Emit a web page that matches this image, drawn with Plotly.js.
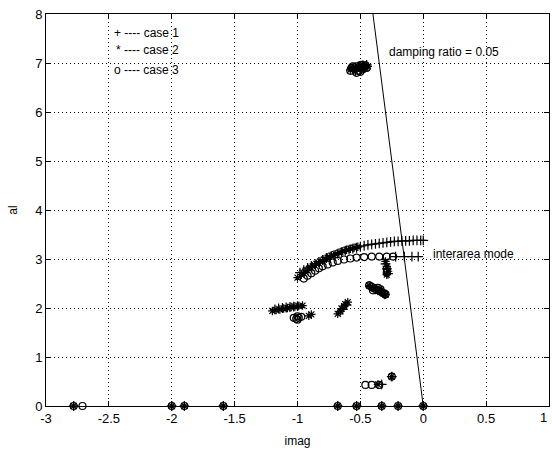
<!DOCTYPE html>
<html>
<head>
<meta charset="utf-8">
<script src="https://cdn.plot.ly/plotly-3.0.1.min.js"></script>
<style>html,body{margin:0;padding:0;background:#fff;}#chart{width:552px;height:457px;}</style>
</head>
<body>
<div id="chart"></div>
<script>
// case 1 (+)
var case1X = [-2.78,-2.0,-1.9,-1.59,-0.68,-0.53,-0.33,-0.2,0.0,
  -0.98,-0.95,-0.92,-0.89,-0.86,-0.83,-0.8,-0.77,-0.74,-0.71,-0.68,-0.65,-0.62,-0.59,-0.56,-0.53,-0.5,-0.47,-0.44,-0.41,-0.38,-0.35,-0.32,-0.29,-0.26,-0.23,-0.2,-0.17,-0.14,-0.11,-0.08,-0.05,-0.02,0.0,
  -0.22,-0.15,-0.09,-0.04,
  -0.56,-0.54,-0.51,-0.49,-0.47,-0.45,
  -1.18,-1.15,-1.12,-1.09,-1.06,-1.03,-1.0,
  -0.64,-0.61,
  -0.42,-0.38,-0.33,-0.31,
  -0.3,-0.29,-0.28,
  -0.33,-0.25];
var case1Y = [0,0,0,0,0,0,0,0,0,
  2.72,2.77,2.82,2.86,2.9,2.94,2.98,3.02,3.05,3.08,3.11,3.14,3.17,3.19,3.21,3.23,3.25,3.27,3.29,3.3,3.31,3.32,3.33,3.34,3.35,3.36,3.36,3.37,3.37,3.37,3.38,3.38,3.38,3.38,
  3.05,3.05,3.05,3.05,
  6.88,6.84,6.94,6.87,6.9,6.96,
  1.97,1.99,2.0,2.01,2.02,2.03,2.04,
  1.97,2.06,
  2.44,2.38,2.33,2.28,
  2.9,2.8,2.7,
  0.44,0.6];
// case 2 (*)
var case2X = [-2.78,-2.0,-1.9,-1.59,-0.68,-0.53,-0.33,-0.2,0.0,
  -1.0,-0.97,-0.94,-0.91,-0.88,-0.85,-0.82,-0.79,-0.76,-0.73,-0.7,-0.67,-0.64,-0.61,-0.58,-0.55,-0.52,
  -1.2,-1.17,-1.14,-1.11,-1.08,-1.05,-1.02,-0.99,-0.96,
  -0.68,-0.66,-0.65,-0.63,-0.62,-0.6,
  -0.91,-0.89,
  -0.58,-0.56,-0.54,-0.52,-0.5,-0.48,-0.46,-0.44,
  -0.43,-0.4,-0.38,-0.36,-0.34,-0.32,-0.3,
  -0.3,-0.29,-0.28,-0.29,
  -0.36,-0.25];
var case2Y = [0,0,0,0,0,0,0,0,0,
  2.62,2.68,2.74,2.8,2.85,2.9,2.95,2.99,3.03,3.07,3.1,3.13,3.16,3.19,3.21,3.23,3.25,
  1.94,1.96,1.97,1.99,2.0,2.02,2.03,2.04,2.05,
  1.88,1.93,1.99,2.04,2.08,2.12,
  1.84,1.87,
  6.86,6.91,6.83,6.94,6.88,6.97,6.9,6.93,
  2.46,2.42,2.39,2.36,2.33,2.3,2.27,
  2.95,2.85,2.75,2.68,
  0.44,0.6];
// case 3 (o)
var case3X = [-2.78,-2.71,-2.0,-1.9,-1.59,-0.68,-0.53,-0.33,-0.2,0.0,
  -0.46,-0.41,-0.35,-0.25,
  -0.95,-0.92,-0.89,-0.86,-0.83,-0.8,-0.76,-0.72,-0.68,-0.63,-0.58,-0.53,-0.47,-0.41,-0.35,-0.29,-0.24,
  -0.58,-0.57,-0.55,-0.53,-0.52,-0.5,-0.49,-0.48,-0.46,-0.45,-0.53,-0.5,-0.56,
  -0.43,-0.41,-0.39,-0.37,-0.35,-0.33,-0.31,-0.3,-0.4,-0.36,-0.34,
  -1.03,-1.01,-1.0,-0.99,-0.97,-1.0,
  -0.29,-0.29];
var case3Y = [0,0,0,0,0,0,0,0,0,0,
  0.43,0.43,0.43,0.6,
  2.6,2.66,2.71,2.76,2.81,2.85,2.89,2.93,2.96,2.99,3.01,3.03,3.04,3.05,3.05,3.05,3.05,
  6.84,6.9,6.88,6.93,6.84,6.9,6.96,6.87,6.95,6.9,6.8,6.82,6.93,
  2.46,2.43,2.4,2.37,2.35,2.32,2.3,2.28,2.36,2.41,2.38,
  1.8,1.78,1.76,1.8,1.82,1.83,
  2.8,2.72];
// damping ratio 0.05 line
var dampX = [0, -0.4];
var dampY = [0, 8];
var xTicks = [-3,-2.5,-2,-1.5,-1,-0.5,0,0.5,1];
var xTickText = ['-3','-2.5','-2','-1.5','-1','-0.5','0','0.5','1'];
var yTicks = [0,1,2,3,4,5,6,7,8];
var legendLines = ['+ ---- case 1', '* ---- case 2', 'o ---- case 3'];
var legendY = [7.62, 7.27, 6.86];

var F = 'Liberation Sans, Arial, sans-serif';
function mk(x, y, sym) {
  return {x: x, y: y, type: 'scatter', mode: 'markers', showlegend: false, cliponaxis: false,
    marker: {symbol: sym, size: 7, color: '#000', line: {color: '#000', width: 1.2}}};
}
var traces = [
  {x: dampX, y: dampY, type: 'scatter', mode: 'lines', showlegend: false, line: {color: '#000', width: 1}},
  mk(case3X, case3Y, 'circle-open'),
  mk(case2X, case2Y, 'asterisk-open'),
  mk(case1X, case1Y, 'cross-thin-open')
];
var ann = legendLines.map(function (t, i) {
  return {x: -1.93, y: legendY[i], xref: 'x', yref: 'y', text: t, showarrow: false,
    xanchor: 'right', yanchor: 'middle', font: {family: F, size: 12, color: '#000'}};
});
ann.push({x: -0.29, y: 7.22, xref: 'x', yref: 'y', text: 'damping ratio = 0.05', showarrow: false,
  xanchor: 'left', yanchor: 'middle', font: {family: F, size: 12, color: '#000'}});
ann.push({x: 0.06, y: 3.1, xref: 'x', yref: 'y', text: 'interarea mode', showarrow: false,
  xanchor: 'left', yanchor: 'middle', font: {family: F, size: 12, color: '#000'}});
// last x tick label drawn at the right edge (tick label at the paper edge is otherwise dropped)
var lastTick = xTicks.length - 1;
ann.push({x: xTicks[lastTick], y: 0, xref: 'x', yref: 'paper', yshift: -2, text: xTickText[lastTick],
  showarrow: false, xanchor: 'right', yanchor: 'top', font: {family: F, size: 13, color: '#000'}});

var shownTickText = xTickText.slice(0, lastTick).concat(['']);

var layout = {
  width: 552, height: 457,
  margin: {l: 46, r: 3, t: 14, b: 51},
  paper_bgcolor: '#fff', plot_bgcolor: '#fff',
  font: {family: F, size: 12, color: '#000'},
  xaxis: {range: [-3, 1], tickvals: xTicks, ticktext: shownTickText, showgrid: true, gridcolor: '#000',
    griddash: '1px,3px', gridwidth: 1, zeroline: false, showline: true, linecolor: '#000', linewidth: 1,
    mirror: 'ticks', ticks: 'inside', ticklen: 5, tickcolor: '#000', tickfont: {family: F, size: 13, color: '#000'},
    title: {text: 'imag', font: {family: F, size: 12, color: '#000'}, standoff: 12}},
  yaxis: {range: [0, 8], tickvals: yTicks, showgrid: true, gridcolor: '#000',
    griddash: '1px,3px', gridwidth: 1, zeroline: false, showline: true, linecolor: '#000', linewidth: 1,
    mirror: 'ticks', ticks: 'inside', ticklen: 5, tickcolor: '#000', tickfont: {family: F, size: 13, color: '#000'},
    title: {text: 'al', font: {family: F, size: 12, color: '#000'}, standoff: 14}},
  annotations: ann
};
Plotly.newPlot('chart', traces, layout, {staticPlot: true});
</script>
</body>
</html>
